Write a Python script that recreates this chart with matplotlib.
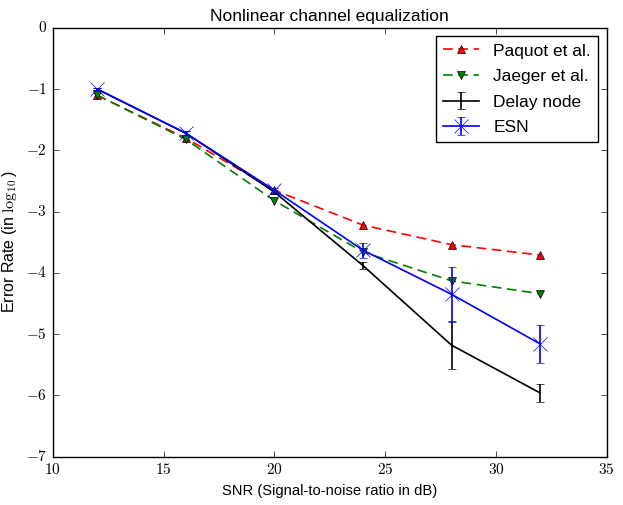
import matplotlib
matplotlib.use("Agg")
import matplotlib.pyplot as plt
from matplotlib.ticker import FuncFormatter

plt.style.use('classic')
plt.rcParams['font.family'] = ['Liberation Sans', 'DejaVu Sans']
plt.rcParams['mathtext.fontset'] = 'cm'

snr = [12, 16, 20, 24, 28, 32]
paquot = [-1.10, -1.80, -2.65, -3.22, -3.54, -3.71]
jaeger = [-1.10, -1.82, -2.82, -3.66, -4.13, -4.34]
delay = [-1.00, -1.72, -2.68, -3.88, -5.18, -5.96]
delay_err = [0.02, 0.03, 0.04, 0.06, 0.39, 0.14]
esn = [-1.00, -1.72, -2.65, -3.63, -4.35, -5.16]
esn_err = [0.02, 0.03, 0.04, 0.12, 0.45, 0.31]

fig = plt.figure(figsize=(6.23, 5.05), dpi=100)
ax = fig.add_axes([0.0846, 0.0956, 0.8892, 0.8495])

ax.plot(snr, paquot, 'r--^', lw=1.2, dashes=(7, 4), markersize=6, label='Paquot et al.')
ax.plot(snr, jaeger, 'g--v', lw=1.2, dashes=(7, 4), markersize=6, label='Jaeger et al.')
ax.errorbar(snr, delay, yerr=delay_err, fmt='k-', lw=1.2, capsize=3, label='Delay node')
ax.errorbar(snr, esn, yerr=esn_err, fmt='b-x', lw=1.2, markersize=10, markeredgecolor='b',
            capsize=3, label='ESN')

ax.set_xlim(10, 35)
ax.set_ylim(-7, 0)
fmt = FuncFormatter(lambda v, p: r'$%d$' % v)
ax.xaxis.set_major_formatter(fmt)
ax.yaxis.set_major_formatter(fmt)
ax.tick_params(labelsize=11)
ax.set_title('Nonlinear channel equalization', fontsize=12.5)
ax.set_xlabel('SNR (Signal-to-noise ratio in dB)', fontsize=10.6)
ax.set_ylabel(r'Error Rate (in $\log_{10}$)', fontsize=11.5)
ax.legend(loc='upper right', numpoints=1, fontsize=12.5, labelspacing=0.6,
          handlelength=2.1)

fig.savefig('out.png', dpi=100)
